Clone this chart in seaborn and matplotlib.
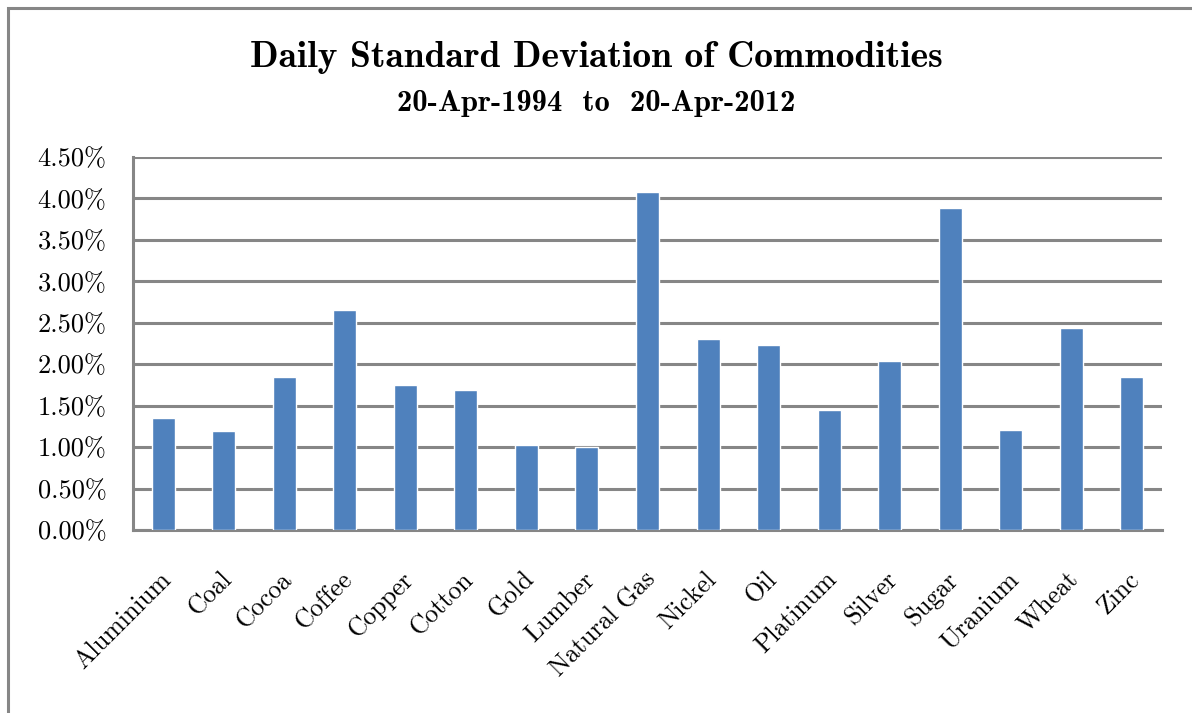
import matplotlib
matplotlib.use("Agg")
import matplotlib.pyplot as plt
import matplotlib.patches as mpatches
import matplotlib.transforms as mtransforms
import pandas as pd
import seaborn as sns

commodities = ["Aluminium", "Coal", "Cocoa", "Coffee", "Copper", "Cotton", "Gold",
               "Lumber", "Natural Gas", "Nickel", "Oil", "Platinum", "Silver",
               "Sugar", "Uranium", "Wheat", "Zinc"]
std_dev = [1.35, 1.19, 1.85, 2.65, 1.745, 1.69, 1.02, 1.00, 4.08, 2.31, 2.23,
           1.45, 2.04, 3.89, 1.21, 2.44, 1.85]
y_ticks = [0.0, 0.5, 1.0, 1.5, 2.0, 2.5, 3.0, 3.5, 4.0, 4.5]
y_tick_labels = ["%.2f%%" % v for v in y_ticks]

df = pd.DataFrame({"Commodity": commodities, "StdDev": std_dev})

sns.set_style("white")
plt.rcParams["font.family"] = ["cmr10", "DejaVu Serif"]
plt.rcParams["axes.unicode_minus"] = False
plt.rcParams["text.color"] = "black"
plt.rcParams["xtick.color"] = "black"
plt.rcParams["ytick.color"] = "black"

fig = plt.figure(figsize=(11.92, 7.13), dpi=100)
ax = fig.add_axes([133 / 1192, 1 - 530 / 713, (1162 - 133) / 1192, (530 - 157) / 713])

sns.barplot(data=df, x="Commodity", y="StdDev", color="#4F81BD", width=0.38,
            saturation=1, ax=ax, zorder=3)

ax.set_ylim(0, 4.5)
ax.set_yticks(y_ticks)
ax.set_yticklabels(y_tick_labels, fontsize=19)
ax.set_xlim(-0.5, len(commodities) - 0.5)
ax.set_xticks(range(len(commodities)))
ax.set_xticklabels(commodities, fontsize=18.5, rotation=45, ha="right",
                   va="top", rotation_mode="anchor")
ax.tick_params(axis="both", length=0)
ax.tick_params(axis="y", pad=19)
ax.tick_params(axis="x", pad=27)
shift = mtransforms.ScaledTranslation(-4 / 100, 0, fig.dpi_scale_trans)
for lbl in ax.get_xticklabels():
    lbl.set_transform(lbl.get_transform() + shift)
ax.set_xlabel("")
ax.set_ylabel("")

ax.yaxis.grid(True, color="#868686", linewidth=2.2)
ax.set_axisbelow(True)
for side in ["top", "right"]:
    ax.spines[side].set_visible(False)
for side in ["left", "bottom"]:
    ax.spines[side].set_color("#868686")
    ax.spines[side].set_linewidth(2.2)

fig.text(0.5, 1 - 57 / 713, "Daily Standard Deviation of Commodities",
         ha="center", va="center", fontsize=27, family=["cmb10", "DejaVu Serif"])
fig.text(0.5, 1 - 103 / 713, "20-Apr-1994  to  20-Apr-2012",
         ha="center", va="center", fontsize=22, family=["cmb10", "DejaVu Serif"])

border = mpatches.Rectangle((8 / 1192, -0.1), 1.2, 1 - 8 / 713 + 0.1,
                            transform=fig.transFigure, fill=False,
                            edgecolor="#868686", linewidth=2.2)
fig.patches.append(border)

fig.savefig("out.png", dpi=100)
